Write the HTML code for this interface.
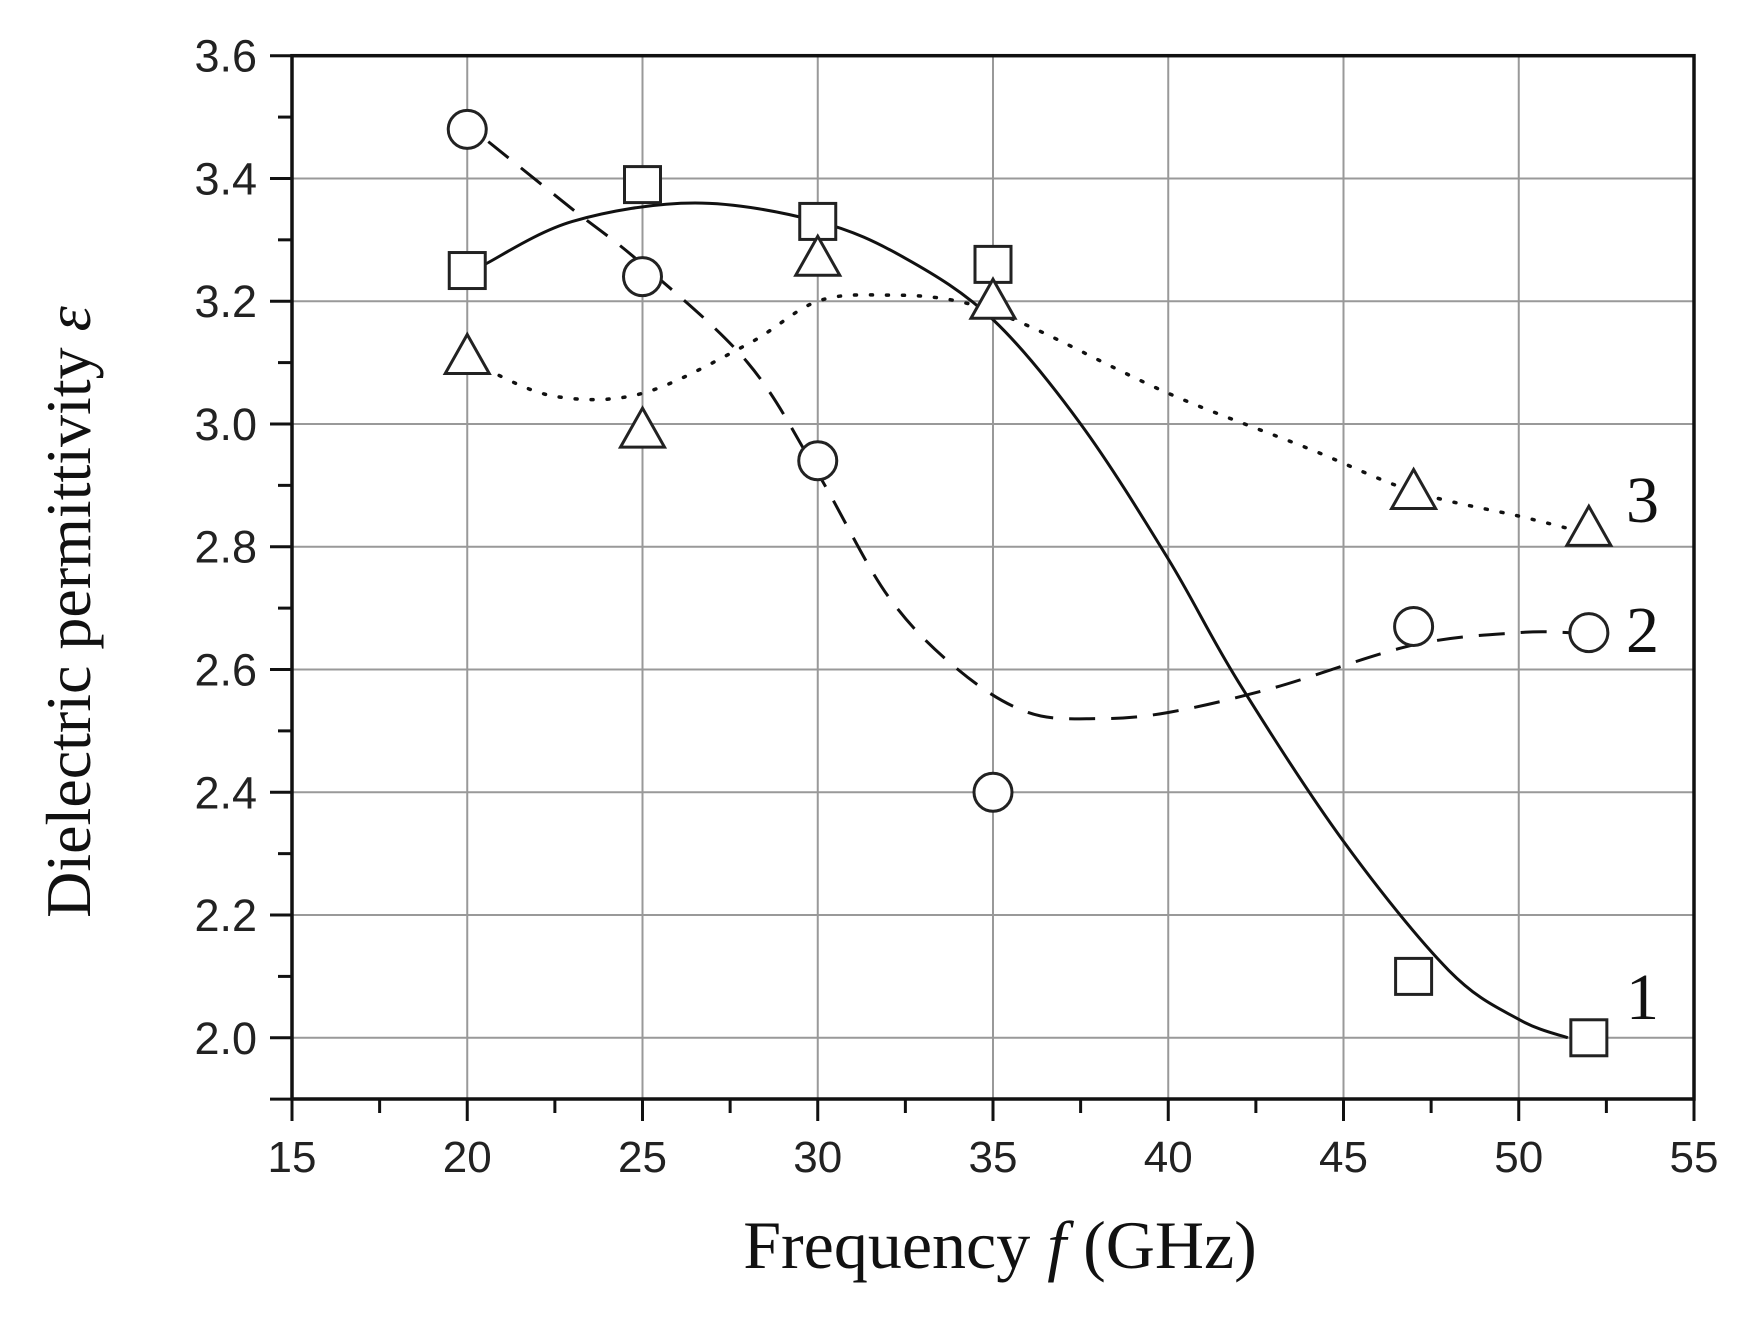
<!DOCTYPE html>
<html><head><meta charset="utf-8"><style>body{margin:0;background:#fff}svg{display:block}</style></head>
<body>
<svg id="s" width="1746" height="1320" xmlns="http://www.w3.org/2000/svg"></svg>
<script>
const X=f=>292+(f-15)*35.05, Y=v=>55.7+(3.6-v)*613.8;
let h='';
for(let f=20;f<=50;f+=5)h+=`<line x1="${X(f)}" y1="${Y(3.6)}" x2="${X(f)}" y2="1099" stroke="#999" stroke-width="2"/>`;
for(let v=2.0;v<=3.41;v+=0.2)h+=`<line x1="292" y1="${Y(v)}" x2="1694" y2="${Y(v)}" stroke="#999" stroke-width="2"/>`;
h+=`<rect x="292" y="${Y(3.6)}" width="1402" height="${1099-Y(3.6)}" fill="none" stroke="#111" stroke-width="3.5"/>`;
for(let i=0;i<=16;i++){const f=15+i*2.5,L=i%2?14:22;h+=`<line x1="${X(f)}" y1="1099" x2="${X(f)}" y2="${1099+L}" stroke="#111" stroke-width="3"/>`;
 if(i%2==0)h+=`<text x="${X(f)}" y="1172" font-size="44" text-anchor="middle" font-family="Liberation Sans,sans-serif" fill="#222">${f}</text>`;}
for(let i=0;i<=16;i++){const v=2.0+i*0.1,L=i%2?14:22;const y=Y(v);h+=`<line x1="${292-L}" y1="${y}" x2="292" y2="${y}" stroke="#111" stroke-width="3"/>`;
 if(i%2==0)h+=`<text x="257" y="${y+16}" font-size="45" text-anchor="end" font-family="Liberation Sans,sans-serif" fill="#222">${v.toFixed(1)}</text>`;}
h+=`<line x1="270" y1="${Y(1.9)}" x2="292" y2="${Y(1.9)}" stroke="#111" stroke-width="3"/>`;
function cr(pts){pts=pts.map(p=>[X(p[0]),Y(p[1])]);let d=`M${pts[0]}`;for(let i=0;i<pts.length-1;i++){const p0=pts[i-1]||pts[i],p1=pts[i],p2=pts[i+1],p3=pts[i+2]||p2;
d+=`C${p1[0]+(p2[0]-p0[0])/6},${p1[1]+(p2[1]-p0[1])/6} ${p2[0]-(p3[0]-p1[0])/6},${p2[1]-(p3[1]-p1[1])/6} ${p2[0]},${p2[1]}`;}return d;}
h+=`<path d="${cr([[20.5,3.26],[23,3.33],[26.5,3.36],[30,3.33],[32.5,3.27],[35,3.17],[37.5,3.0],[40,2.78],[42,2.58],[45,2.32],[48,2.11],[50,2.03],[51.4,2.0]])}" fill="none" stroke="#111" stroke-width="3"/>`;
h+=`<path d="${cr([[20.6,3.46],[23,3.35],[25,3.26],[28,3.1],[30,2.92],[32,2.72],[34,2.6],[36,2.53],[38,2.52],[40,2.53],[43,2.57],[47,2.64],[50,2.66],[51.5,2.66]])}" fill="none" stroke="#111" stroke-width="3" stroke-dasharray="26,16"/>`;
h+=`<path d="${cr([[20.5,3.09],[22.5,3.045],[25,3.05],[28,3.13],[30,3.2],[32,3.21],[34,3.2],[36,3.16],[40,3.05],[44,2.96],[47,2.89],[50,2.85],[51.4,2.83]])}" fill="none" stroke="#111" stroke-width="3.5" stroke-dasharray="2,14" stroke-linecap="round"/>`;
[[20,3.25],[25,3.39],[30,3.33],[35,3.26],[47,2.10],[52,2.00]].forEach(p=>h+=`<rect x="${X(p[0])-18}" y="${Y(p[1])-18}" width="36" height="36" fill="#fff" stroke="#222" stroke-width="3"/>`);
[[20,3.48],[25,3.24],[30,2.94],[35,2.40],[47,2.67],[52,2.66]].forEach(p=>h+=`<circle cx="${X(p[0])}" cy="${Y(p[1])}" r="19" fill="#fff" stroke="#222" stroke-width="3"/>`);
[[20,3.11],[25,2.99],[30,3.27],[35,3.20],[47,2.89],[52,2.83]].forEach(p=>{const x=X(p[0]),y=Y(p[1]);h+=`<polygon points="${x},${y-22} ${x+22},${y+17} ${x-22},${y+17}" fill="#fff" stroke="#222" stroke-width="3"/>`;});
const sf='font-family="Liberation Serif,serif" fill="#111"';
h+=`<text x="1626" y="522" font-size="66" ${sf}>3</text><text x="1626" y="652" font-size="66" ${sf}>2</text><text x="1626" y="1019" font-size="66" ${sf}>1</text>`;
h+=`<text x="1000" y="1268" font-size="68" text-anchor="middle" ${sf}>Frequency <tspan font-style="italic">f</tspan> (GHz)</text>`;
h+=`<text transform="translate(90,612) rotate(-90)" font-size="64" text-anchor="middle" ${sf}>Dielectric permittivity <tspan font-style="italic">ε</tspan></text>`;
document.getElementById('s').innerHTML=h;
</script>
</body></html>
